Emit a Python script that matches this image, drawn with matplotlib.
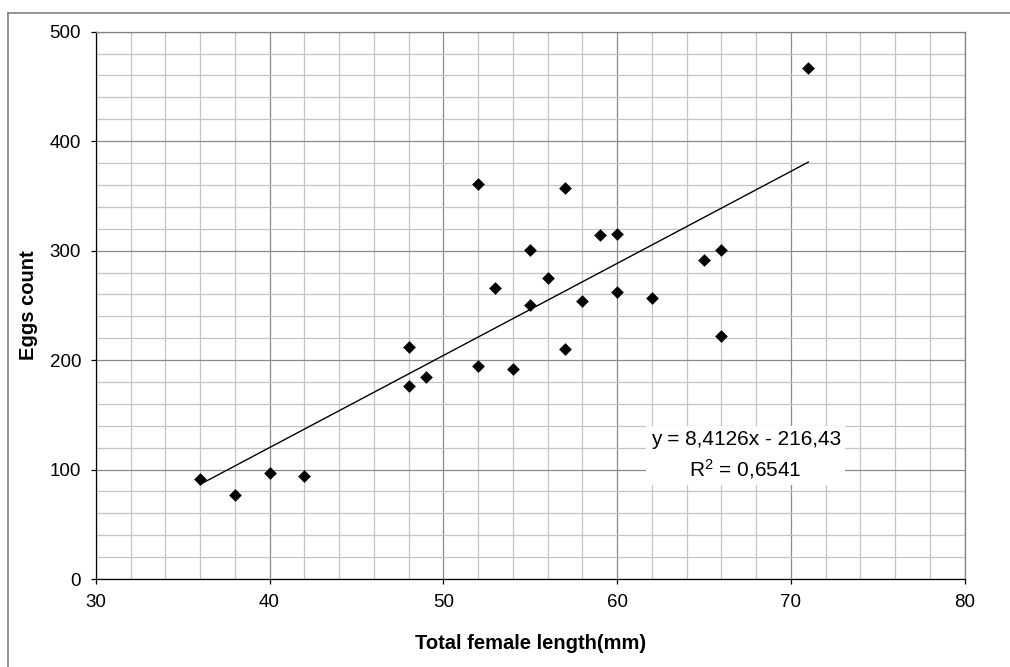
import matplotlib
matplotlib.use("Agg")
import matplotlib.pyplot as plt
from matplotlib.ticker import MultipleLocator
from matplotlib.lines import Line2D
import numpy as np

plt.rcParams['font.family'] = ['Liberation Sans', 'DejaVu Sans']
plt.rcParams['mathtext.fontset'] = 'custom'
plt.rcParams['mathtext.rm'] = 'Liberation Sans'
plt.rcParams['mathtext.it'] = 'Liberation Sans'

# Data
lengths = [36, 38, 40, 42, 48, 48, 49, 52, 52, 53, 54, 55, 55, 56, 57, 57, 58,
           59, 60, 60, 62, 65, 66, 66, 71]
eggs = [91, 77, 97, 94, 212, 176, 185, 361, 195, 266, 192, 301, 250, 275, 357,
        210, 254, 314, 315, 262, 257, 291, 301, 222, 467]
slope = 8.4126
intercept = -216.43
r_squared = 0.6541

x_label = "Total female length(mm)"
y_label = "Eggs count"

fig = plt.figure(figsize=(10.1, 6.67), dpi=100)
ax = fig.add_axes([0.0948, 0.1319, 0.8604, 0.8206])

# outer chart frame (partially visible)
fig.add_artist(Line2D([0.0079, 1.0], [0.9805, 0.9805], transform=fig.transFigure,
                      color='#808080', lw=1.2))
fig.add_artist(Line2D([0.0079, 0.0079], [0.0, 0.9805], transform=fig.transFigure,
                      color='#808080', lw=1.2))

ax.set_xlim(30, 80)
ax.set_ylim(0, 500)
ax.xaxis.set_major_locator(MultipleLocator(10))
ax.xaxis.set_minor_locator(MultipleLocator(2))
ax.yaxis.set_major_locator(MultipleLocator(100))
ax.yaxis.set_minor_locator(MultipleLocator(20))

ax.grid(which='minor', color='#c4c4c4', lw=0.9, zorder=0)
ax.grid(which='major', color='#8a8a8a', lw=0.9, zorder=0)
ax.set_axisbelow(True)

ax.tick_params(which='major', direction='out', length=3.6, width=0.9,
               color='black', labelsize=13.5, labelcolor='black')
ax.tick_params(axis='x', which='major', pad=7)
ax.tick_params(axis='y', which='major', pad=7)
ax.tick_params(which='minor', length=0)

for s in ['left', 'bottom']:
    ax.spines[s].set_color('black')
    ax.spines[s].set_linewidth(0.9)
for s in ['top', 'right']:
    ax.spines[s].set_color('#808080')
    ax.spines[s].set_linewidth(0.9)

ax.scatter(lengths, eggs, marker='D', s=42, color='black', zorder=3, linewidths=0)

xs = np.array([min(lengths), max(lengths)])
ax.plot(xs, slope * xs + intercept, color='black', lw=1.0, zorder=2)

eq = "y = {:.4f}x - {:.2f}".format(slope, -intercept).replace('.', ',')
r2 = "R$^2$ = {:.4f}".format(r_squared).replace('.', ',')
ax.text(67.4, 113, eq + "\n" + r2, ha='center', va='center', fontsize=15,
        multialignment='center', linespacing=1.45, zorder=4,
        bbox=dict(facecolor='white', edgecolor='none', pad=3))

ax.set_xlabel(x_label, fontsize=14.5, fontweight='bold', labelpad=17)
ax.set_ylabel(y_label, fontsize=14.5, fontweight='bold', labelpad=8)

fig.savefig("out.png", dpi=100)
